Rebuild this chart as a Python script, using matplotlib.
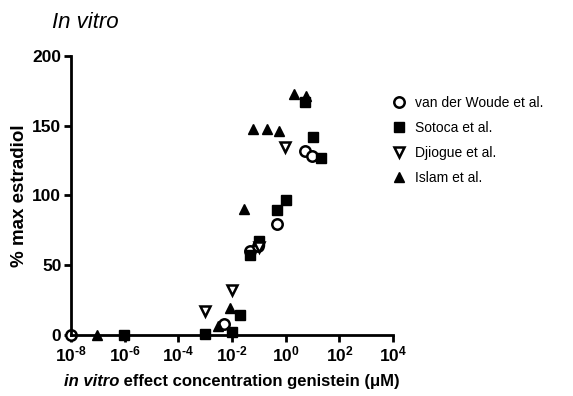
import matplotlib
matplotlib.use("Agg")
import matplotlib.pyplot as plt
from matplotlib.offsetbox import TextArea, HPacker, AnchoredOffsetbox
from matplotlib.lines import Line2D

plt.rcParams['font.family'] = ['Liberation Sans', 'DejaVu Sans']
plt.rcParams['mathtext.fontset'] = 'custom'
plt.rcParams['mathtext.rm'] = 'Liberation Sans:bold'
plt.rcParams['mathtext.it'] = 'Liberation Sans:bold:italic'
plt.rcParams['mathtext.bf'] = 'Liberation Sans:bold'

# Data (concentration in uM, response in % max estradiol)
woude_x = [1e-8, 10**-2.31, 10**-1.33, 10**-1.04, 10**-0.32, 10**0.70, 10**0.98]
woude_y = [0, 8, 60, 64, 79.5, 131.5, 128.5]

sotoca_x = [10**-6.01, 10**-3.0, 10**-2.0, 10**-1.71, 10**-1.32, 10**-1.01, 10**-0.31, 10**0.0, 10**0.70, 10**1.01, 10**1.30]
sotoca_y = [0, 0.5, 2, 14, 57, 67, 89.5, 96.5, 167, 142, 126.5]

djiogue_x = [10**-3.0, 10**-2.01, 10**-1.0, 10**-0.01]
djiogue_y = [17.5, 32.5, 63, 135]

islam_x = [10**-7.03, 10**-2.53, 10**-2.06, 10**-1.54, 10**-1.23, 10**-0.71, 10**-0.24, 10**0.29, 10**0.76]
islam_y = [0, 6.5, 19, 90, 147.5, 147.5, 146.5, 173, 171]

labels = ['van der Woude et al.', 'Sotoca et al.', 'Djiogue et al.', 'Islam et al.']
xtick_vals = [1e-8, 1e-6, 1e-4, 1e-2, 1e0, 1e2, 1e4]
xtick_labels = [r'$10^{\text{-}8}$', r'$10^{\text{-}6}$', r'$10^{\text{-}4}$', r'$10^{\text{-}2}$',
                r'$10^{0}$', r'$10^{2}$', r'$10^{4}$']

fig = plt.figure(figsize=(5.73, 3.96), dpi=100)
ax = fig.add_axes([0.124, 0.154, 0.562, 0.705])

ax.plot(woude_x, woude_y, 'o', mfc='white', mec='black', mew=1.8, ms=7.5, ls='none', clip_on=False, zorder=2.4)
ax.plot(sotoca_x, sotoca_y, 's', color='black', ms=6.5, ls='none', clip_on=False, zorder=4)
ax.plot(djiogue_x, djiogue_y, 'v', mfc='white', mec='black', mew=1.8, ms=7.5, ls='none', clip_on=False, zorder=4)
ax.plot(islam_x, islam_y, '^', color='black', ms=6.5, ls='none', clip_on=False, zorder=4)

ax.set_xscale('log')
ax.set_xlim(1e-8, 1e4)
ax.set_ylim(0, 200)
ax.set_xticks(xtick_vals)
ax.set_xticklabels(xtick_labels)
ax.minorticks_off()
ax.set_yticks([0, 50, 100, 150, 200])
for s in ['top', 'right']:
    ax.spines[s].set_visible(False)
for s in ['left', 'bottom']:
    ax.spines[s].set_linewidth(2)
ax.tick_params(width=2, length=5, labelsize=12.5, pad=2)
for t in ax.get_yticklabels():
    t.set_fontweight('bold')

ax.set_ylabel('% max estradiol', fontsize=13.5, fontweight='bold', labelpad=3)

# x label with mixed styles
t1 = TextArea('in vitro', textprops=dict(fontsize=12, fontweight='bold', fontstyle='italic'))
t2 = TextArea(' effect concentration genistein (\u03bcM)', textprops=dict(fontsize=12, fontweight='bold'))
box = HPacker(children=[t1, t2], align='baseline', pad=0, sep=0)
ab = AnchoredOffsetbox(loc='upper center', child=box, pad=0, frameon=False,
                       bbox_to_anchor=(0.5, -0.14), bbox_transform=ax.transAxes, borderpad=0)
ax.add_artist(ab)

fig.text(0.091, 0.944, 'In vitro', fontsize=16, fontstyle='italic', va='center', ha='left')

handles = [
    Line2D([], [], marker='o', mfc='white', mec='black', mew=1.8, ms=7.5, ls='none'),
    Line2D([], [], marker='s', color='black', ms=6.5, ls='none'),
    Line2D([], [], marker='v', mfc='white', mec='black', mew=1.8, ms=7.5, ls='none'),
    Line2D([], [], marker='^', color='black', ms=6.5, ls='none'),
]
fig.legend(handles, labels, loc='center left', bbox_to_anchor=(0.662, 0.645), frameon=False,
           fontsize=10, handlelength=1.0, handletextpad=0.7, labelspacing=0.78)

fig.savefig('out.png', dpi=100)
